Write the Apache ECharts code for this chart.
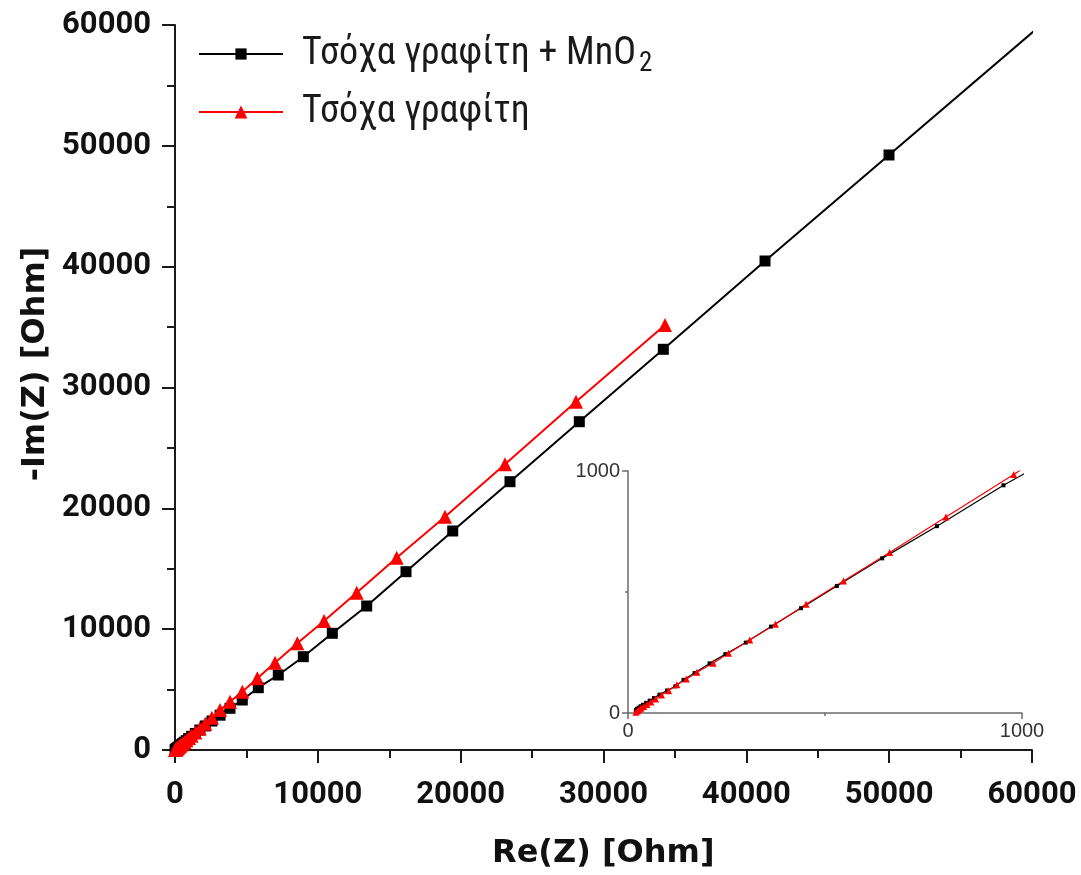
<!DOCTYPE html>
<html>
<head>
<meta charset="utf-8">
<script src="https://cdn.jsdelivr.net/npm/echarts@6/dist/echarts.min.js"></script>
<style>
  html, body { margin: 0; padding: 0; background: #fff; }
  #chart { width: 1081px; height: 875px; }
</style>
</head>
<body>
<div id="chart"></div>
<script>
// Nyquist data: felt electrode with MnO2 and bare graphite felt
const reMnO2 = [20, 23, 27, 32, 38, 46, 55, 66, 80, 99, 120, 141, 169, 207, 247, 299, 363, 439, 530, 645, 784, 953,
  1168, 1425, 1738, 2121, 2588, 3157, 3851, 4712, 5832, 7232, 8983, 11013, 13422, 16173, 19443, 23454,
  28306, 34188, 41308, 49990, 60600];
const imMnO2 = [12, 17, 22, 28, 34, 42, 51, 62, 76, 93, 110, 137, 165, 205, 243, 291, 357, 433, 525, 639, 772, 941,
  1135, 1370, 1650, 1990, 2400, 2880, 3451, 4138, 5156, 6207, 7722, 9658, 11917, 14757, 18125, 22205,
  27170, 33162, 40470, 49243, 59970];
const reFelt = [20, 24, 28, 33, 40, 48, 58, 70, 85, 103, 124, 148, 175, 216, 255, 309, 374, 452, 547, 664, 807, 979,
  1166, 1422, 1735, 2117, 2583, 3151, 3851, 4714, 5764, 7001, 8565, 10432, 12719, 15519, 18904, 23104,
  28075, 34306];
const imFelt = [3, 8, 14, 20, 27, 35, 45, 58, 74, 92, 117, 140, 168, 206, 247, 302, 367, 449, 545, 663, 810, 986,
  1180, 1450, 1780, 2180, 2670, 3310, 4000, 4828, 5932, 7228, 8828, 10676, 13022, 15918, 19308, 23644,
  28826, 35173];

const nameMnO2 = 'Τσόχα γραφίτη + MnO2';
const nameFelt = 'Τσόχα γραφίτη';

const zip = (xs, ys) => xs.map((x, i) => [x, ys[i]]);
const dMnO2 = zip(reMnO2, imMnO2);
const dFelt = zip(reFelt, imFelt);

const plain = v => String(v);
const axisDark = '#1a1a1a';
const tickFont = { fontFamily: 'Roboto', fontWeight: 'bold', fontSize: 31, color: '#111', formatter: plain };

function mainAxis(extra) {
  return Object.assign({
    type: 'value', min: 0, max: 60000, interval: 10000,
    gridIndex: 0,
    splitLine: { show: false },
    axisLine: { show: true, onZero: false, lineStyle: { color: axisDark, width: 2 } },
    axisTick: { show: true, inside: false, length: 13, lineStyle: { color: axisDark, width: 2 } },
    minorTick: { show: true, splitNumber: 2, length: 8, lineStyle: { color: axisDark, width: 2 } }
  }, extra);
}

function insetAxis(extra) {
  return Object.assign({
    type: 'value', min: 0, max: 1000, interval: 1000,
    gridIndex: 1,
    splitLine: { show: false },
    axisLine: { show: true, onZero: false, lineStyle: { color: '#6b6b6b', width: 1.5 } },
    axisTick: { show: true, inside: false, length: 6, lineStyle: { color: '#6b6b6b', width: 1.5 } },
    minorTick: { show: true, splitNumber: 2, length: 3, lineStyle: { color: '#6b6b6b', width: 1.5 } },
    axisLabel: { margin: 8, fontFamily: 'Liberation Sans', fontSize: 20, color: '#333', formatter: plain }
  }, extra);
}

const chart = echarts.init(document.getElementById('chart'), null, { renderer: 'canvas' });

const legendText = {
  fontFamily: "'Roboto Condensed', 'Liberation Sans Narrow', Roboto",
  fontSize: 38,
  color: '#1a1a1a',
  padding: [0, 0, 0, 14],
  rich: {
    sub: { fontFamily: "'Roboto Condensed', Roboto", fontSize: 27, color: '#1a1a1a', padding: [20, 0, 0, 3] }
  }
};

chart.setOption({
  animation: false,
  backgroundColor: '#ffffff',
  grid: [
    { left: 175, right: 49, top: 25, bottom: 125, containLabel: false },
    { left: 628, right: 59, top: 471, bottom: 162, containLabel: false }
  ],
  legend: [
    {
      data: [nameMnO2], left: 193, top: 30, itemWidth: 84, itemHeight: 14,
      textStyle: legendText,
      formatter: n => n.replace('MnO2', 'MnO{sub|2}')
    },
    {
      data: [nameFelt], left: 193, top: 88, itemWidth: 84, itemHeight: 16,
      textStyle: legendText
    }
  ],
  xAxis: [
    mainAxis({ axisLabel: Object.assign({ margin: 30 }, tickFont) }),
    insetAxis({})
  ],
  yAxis: [
    mainAxis({ axisLabel: Object.assign({ margin: 24 }, tickFont) }),
    insetAxis({})
  ],
  graphic: [
    {
      type: 'text', left: 492, top: 838,
      style: { text: 'Re(Z) [Ohm]', font: "bold 32px 'DejaVu Sans'", fill: '#111' }
    },
    {
      type: 'text', x: 36, y: 364, rotation: Math.PI / 2,
      style: { text: '-Im(Z) [Ohm]', font: "bold 32px 'DejaVu Sans'", fill: '#111', align: 'center', verticalAlign: 'middle' }
    }
  ],
  series: [
    {
      name: nameMnO2, type: 'line', xAxisIndex: 0, yAxisIndex: 0, data: dMnO2,
      symbol: 'rect', symbolSize: 11, clip: true,
      lineStyle: { color: '#000', width: 2 }, itemStyle: { color: '#000' }
    },
    {
      name: nameFelt, type: 'line', xAxisIndex: 0, yAxisIndex: 0, data: dFelt,
      symbol: 'triangle', symbolSize: 14, clip: true,
      lineStyle: { color: '#ff0000', width: 2 }, itemStyle: { color: '#ff0000' }
    },
    {
      name: nameMnO2, type: 'line', xAxisIndex: 1, yAxisIndex: 1, data: dMnO2,
      symbol: 'rect', symbolSize: 4, clip: true,
      lineStyle: { color: '#000', width: 1.2 }, itemStyle: { color: '#000' }
    },
    {
      name: nameFelt, type: 'line', xAxisIndex: 1, yAxisIndex: 1, data: dFelt,
      symbol: 'triangle', symbolSize: 7, clip: true,
      lineStyle: { color: '#ff0000', width: 1.2 }, itemStyle: { color: '#ff0000' }
    }
  ]
});
</script>
</body>
</html>
